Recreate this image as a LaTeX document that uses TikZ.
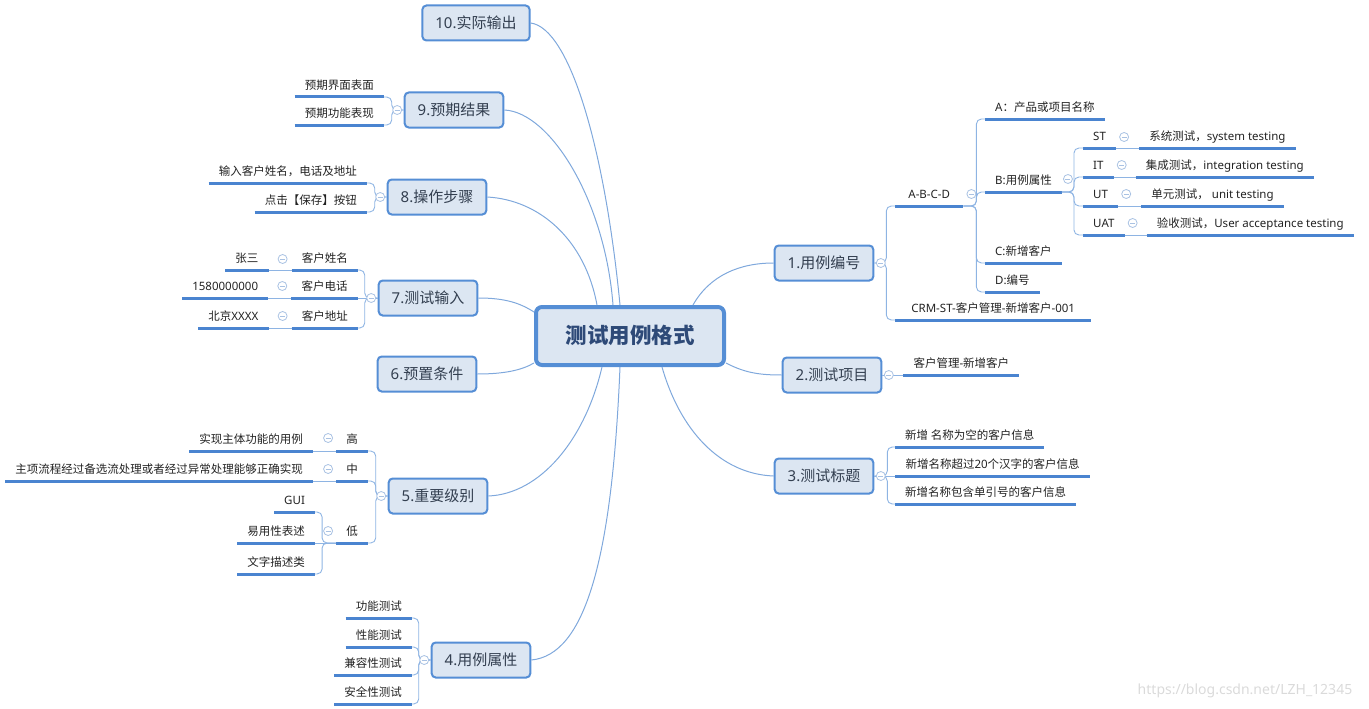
\documentclass[tikz,border=0pt]{standalone}
\usepackage{fontspec}
\setmainfont{Noto Sans CJK SC}
\newfontfamily\lat{Noto Sans}
\definecolor{boxfill}{HTML}{DCE6F2}
\definecolor{boxline}{HTML}{558ED5}
\definecolor{boxtext}{HTML}{333F50}
\definecolor{ctext}{HTML}{2E4A78}
\definecolor{leaftext}{HTML}{222222}
\definecolor{ulcol}{HTML}{4A84D0}
\definecolor{brcol}{HTML}{8EB4E3}
\definecolor{maincol}{HTML}{7FA8DC}
\definecolor{mkcol}{HTML}{A9C2E3}
\definecolor{wmcol}{HTML}{DADADA}
\begin{document}
\begin{tikzpicture}[x=1pt,y=-1pt,
  center/.style={draw=boxline, fill=boxfill, line width=4pt, rounded corners=6pt,
    minimum width=188pt, minimum height=58pt, inner sep=0pt,
    font=\fontsize{21.5}{21.5}\selectfont\bfseries, text=ctext, text height=17pt, text depth=2pt},
  box/.style={draw=boxline, fill=boxfill, line width=2pt, rounded corners=4pt,
    minimum width=98pt, minimum height=35pt, inner xsep=13pt, inner ysep=0pt,
    font=\fontsize{15}{15}\selectfont, text=boxtext, text height=12.5pt, text depth=1.5pt},
  leaf/.style={font=\fontsize{11.5}{11.5}\selectfont, text=leaftext, inner xsep=10pt,
    inner ysep=5pt, text height=8.5pt, text depth=2.5pt},
  leafR/.style={leaf, anchor=south west},
  leafL/.style={leaf, anchor=south east},
  uline/.style={draw=ulcol, line width=3pt},
  br/.style={draw=brcol, line width=0.9pt, rounded corners=5pt},
  mainc/.style={draw=maincol, line width=1pt},
  mk/.style={circle, draw=mkcol, fill=white, line width=0.8pt, minimum size=9pt, inner sep=0pt,
    path picture={\draw[mkcol, line width=0.8pt] ([xshift=-2.5pt]path picture bounding box.center) -- ([xshift=2.5pt]path picture bounding box.center);}}
]
\useasboundingbox (0,0) rectangle (1369,709);

% central and main nodes
\node[center] (c) at (630,336) {测试用例格式};
\node[box] (n10) at (476,23) {{\lat 10.}实际输出};
\node[box] (n9) at (454,110) {{\lat 9.}预期结果};
\node[box] (n8) at (437,197) {{\lat 8.}操作步骤};
\node[box] (n7) at (428,298) {{\lat 7.}测试输入};
\node[box] (n6) at (427,374) {{\lat 6.}预置条件};
\node[box] (n5) at (438,496) {{\lat 5.}重要级别};
\node[box] (n4) at (481,660) {{\lat 4.}用例属性};
\node[box] (n1) at (824,263) {{\lat 1.}用例编号};
\node[box] (n2) at (832,375) {{\lat 2.}测试项目};
\node[box] (n3) at (824,476) {{\lat 3.}测试标题};

% main connectors
\draw[mainc] ([xshift=-10pt]c.north) .. controls (605,150) and (570,28) .. (n10.east);
\draw[mainc] ([xshift=-17pt]c.north) .. controls (605,200) and (550,112) .. (n9.east);
\draw[mainc] ([xshift=-33pt]c.north) .. controls (585,240) and (540,200) .. (n8.east);
\draw[mainc] ([yshift=24pt]c.west) .. controls (520,303) and (505,298) .. (n7.east);
\draw[mainc] ([yshift=-27pt]c.west) .. controls (522,370) and (505,374) .. (n6.east);
\draw[mainc] ([xshift=-28pt]c.south) .. controls (585,440) and (540,494) .. (n5.east);
\draw[mainc] ([xshift=-10pt]c.south) .. controls (612,560) and (585,655) .. (n4.east);
\draw[mainc] ([xshift=32pt]c.south) .. controls (680,430) and (720,474) .. (n3.west);
\draw[mainc] ([xshift=63pt]c.north) .. controls (710,275) and (740,263) .. (n1.west);
\draw[mainc] ([yshift=-27pt]c.east) .. controls (745,373) and (760,375) .. (n2.west);

% right side leaves
\node[leafR, minimum width=68pt] (abcd) at (895,206) {\lat A-B-C-D};
\node[leafR, minimum width=196pt] (crm) at (895,320) {{\lat CRM-ST-}客户管理{\lat -}新增客户{\lat -001}};
\node[leafR] (la) at (985,119) {{\lat A}：产品或项目名称};
\node[leafR] (lb) at (985,192) {{\lat B:}用例属性};
\node[leafR] (lc) at (985,263) {{\lat C:}新增客户};
\node[leafR] (ld) at (985,292) {{\lat D:}编号};
\node[leafR] (st) at (1083,148) {\lat ST};
\node[leafR] (it) at (1083,177) {\lat IT};
\node[leafR] (ut) at (1083,206) {\lat UT};
\node[leafR] (uat) at (1083,235) {\lat UAT};
\node[leafR] (st2) at ([xshift=23pt]st.south east) {系统测试，{\lat system testing}};
\node[leafR] (it2) at ([xshift=22pt]it.south east) {集成测试，{\lat integration testing}};
\node[leafR] (ut2) at ([xshift=23pt]ut.south east) {单元测试，{\lat\ unit testing}};
\node[leafR] (uat2) at ([xshift=22pt]uat.south east) {验收测试，{\lat User acceptance testing}};
\node[leafR] (p2) at ([xshift=21pt]n2.east) {客户管理{\lat -}新增客户};
\node[leafR] (t1) at (895,447) {新增 名称为空的客户信息};
\node[leafR] (t2) at ([xshift=21pt]n3.east) {新增名称超过{\lat 20}个汉字的客户信息};
\node[leafR] (t3) at (895,504) {新增名称包含单引号的客户信息};

% left side leaves
\node[leafL] (e1) at (384,97) {预期界面表面};
\node[leafL] (e2) at (384,125) {预期功能表现};
\node[leafL] (s1) at (367,183) {输入客户姓名，电话及地址};
\node[leafL] (s2) at (367,212) {点击【保存】按钮};
\node[leafL] (k1) at (358,270) {客户姓名};
\node[leafL] (k2) at ([xshift=-20pt]n7.west) {客户电话};
\node[leafL] (k3) at (358,328) {客户地址};
\node[leafL] (zs) at ([xshift=-23pt]k1.south west) {张三};
\node[leafL] (ph) at ([xshift=-23pt]k2.south west) {\lat 1580000000};
\node[leafL] (bj) at ([xshift=-23pt]k3.south west) {北京{\lat XXXX}};
\node[leafL] (hi) at (368,451) {高};
\node[leafL] (mid) at (368,481) {中};
\node[leafL] (lo) at (368,543) {低};
\node[leafL] (hi2) at ([xshift=-23pt]hi.south west) {实现主体功能的用例};
\node[leafL] (mid2) at ([xshift=-23pt]mid.south west) {主项流程经过备选流处理或者经过异常处理能够正确实现};
\node[leafL] (g2) at ([xshift=-21pt]lo.south west) {易用性表述};
\node[leafL] (g1) at ([yshift=31pt]g2.south east) {\lat GUI};
\node[leafL] (g3) at ([yshift=-31pt]g2.south east) {文字描述类};
\node[leafL] (f1) at (412,618) {功能测试};
\node[leafL] (f2) at (412,647) {性能测试};
\node[leafL] (f3) at (412,675) {兼容性测试};
\node[leafL] (f4) at (412,704) {安全性测试};

% underlines
\foreach \n in {abcd,crm,la,lb,lc,ld,st,st2,it,it2,ut,ut2,uat,uat2,p2,t1,t2,t3,
  e1,e2,s1,s2,k1,k2,k3,zs,ph,bj,hi,hi2,mid,mid2,lo,g1,g2,g3,f1,f2,f3,f4}
  \draw[uline] (\n.south west) -- (\n.south east);

% branch connectors right
\draw[br] (n1.east) -- ++(12,0) |- (abcd.south west);
\draw[br] (n1.east) -- ++(12,0) |- (crm.south west);
\foreach \n in {la,lb,lc,ld}
  \draw[br] (abcd.south east) -- ++(13,0) |- (\n.south west);
\foreach \n in {st,it,ut,uat}
  \draw[br] (lb.south east) -- ++(12,0) |- (\n.south west);
\draw[br] (st.south east) -- (st2.south west);
\draw[br] (it.south east) -- (it2.south west);
\draw[br] (ut.south east) -- (ut2.south west);
\draw[br] (uat.south east) -- (uat2.south west);
\draw[br] (n2.east) -- (p2.south west);
\draw[br] (n3.east) -- ++(13,0) |- (t1.south west);
\draw[br] (n3.east) -- (t2.south west);
\draw[br] (n3.east) -- ++(13,0) |- (t3.south west);

% branch connectors left
\draw[br] (n9.west) -- ++(-12,0) |- (e1.south east);
\draw[br] (n9.west) -- ++(-12,0) |- (e2.south east);
\draw[br] (n8.west) -- ++(-12,0) |- (s1.south east);
\draw[br] (n8.west) -- ++(-12,0) |- (s2.south east);
\draw[br] (n7.west) -- ++(-13,0) |- (k1.south east);
\draw[br] (n7.west) -- (k2.south east);
\draw[br] (n7.west) -- ++(-13,0) |- (k3.south east);
\draw[br] (k1.south west) -- (zs.south east);
\draw[br] (k2.south west) -- (ph.south east);
\draw[br] (k3.south west) -- (bj.south east);
\foreach \n in {hi,mid,lo}
  \draw[br] (n5.west) -- ++(-12,0) |- (\n.south east);
\draw[br] (hi.south west) -- (hi2.south east);
\draw[br] (mid.south west) -- (mid2.south east);
\draw[br] (lo.south west) -- ++(-14,0) |- (g1.south east);
\draw[br] (lo.south west) -- (g2.south east);
\draw[br] (lo.south west) -- ++(-14,0) |- (g3.south east);
\foreach \n in {f1,f2,f3,f4}
  \draw[br] (n4.west) -- ++(-12,0) |- (\n.south east);

% collapse markers
\node[mk] (m1) at ([xshift=6.5pt]n1.east) {};
\node[mk] (m2) at ([xshift=6.5pt]n2.east) {};
\node[mk] (m3) at ([xshift=6.5pt]n3.east) {};
\node[mk] (m4) at ([xshift=-6.5pt]n4.west) {};
\node[mk] (m5) at ([xshift=-6.5pt]n5.west) {};
\node[mk] (m7) at ([xshift=-6.5pt]n7.west) {};
\node[mk] (m8) at ([xshift=-6.5pt]n8.west) {};
\node[mk] (m9) at ([xshift=-6.5pt]n9.west) {};
\node[mk] (mabcd) at ([shift={(8pt,12pt)}]abcd.south east) {};
\node[mk] (mlb) at ([shift={(6pt,13pt)}]lb.south east) {};
\node[mk] (mst) at ([shift={(8pt,11pt)}]st.south east) {};
\node[mk] (mit) at ([shift={(8pt,12pt)}]it.south east) {};
\node[mk] (mut) at ([shift={(8pt,12pt)}]ut.south east) {};
\node[mk] (muat) at ([shift={(8pt,12pt)}]uat.south east) {};
\node[mk] (mk1) at ([shift={(-9pt,11pt)}]k1.south west) {};
\node[mk] (mk2) at ([shift={(-9pt,12pt)}]k2.south west) {};
\node[mk] (mk3) at ([shift={(-9pt,12pt)}]k3.south west) {};
\node[mk] (mhi) at ([shift={(-8pt,13pt)}]hi.south west) {};
\node[mk] (mmid) at ([shift={(-8pt,12pt)}]mid.south west) {};
\node[mk] (mlo) at ([shift={(-8pt,12pt)}]lo.south west) {};

% watermark
\node[text=wmcol, font=\fontsize{14}{14}\selectfont\lat, inner sep=0pt] (wm) at (1245,691) {https://blog.csdn.net/LZH\_12345};
\end{tikzpicture}
\end{document}
